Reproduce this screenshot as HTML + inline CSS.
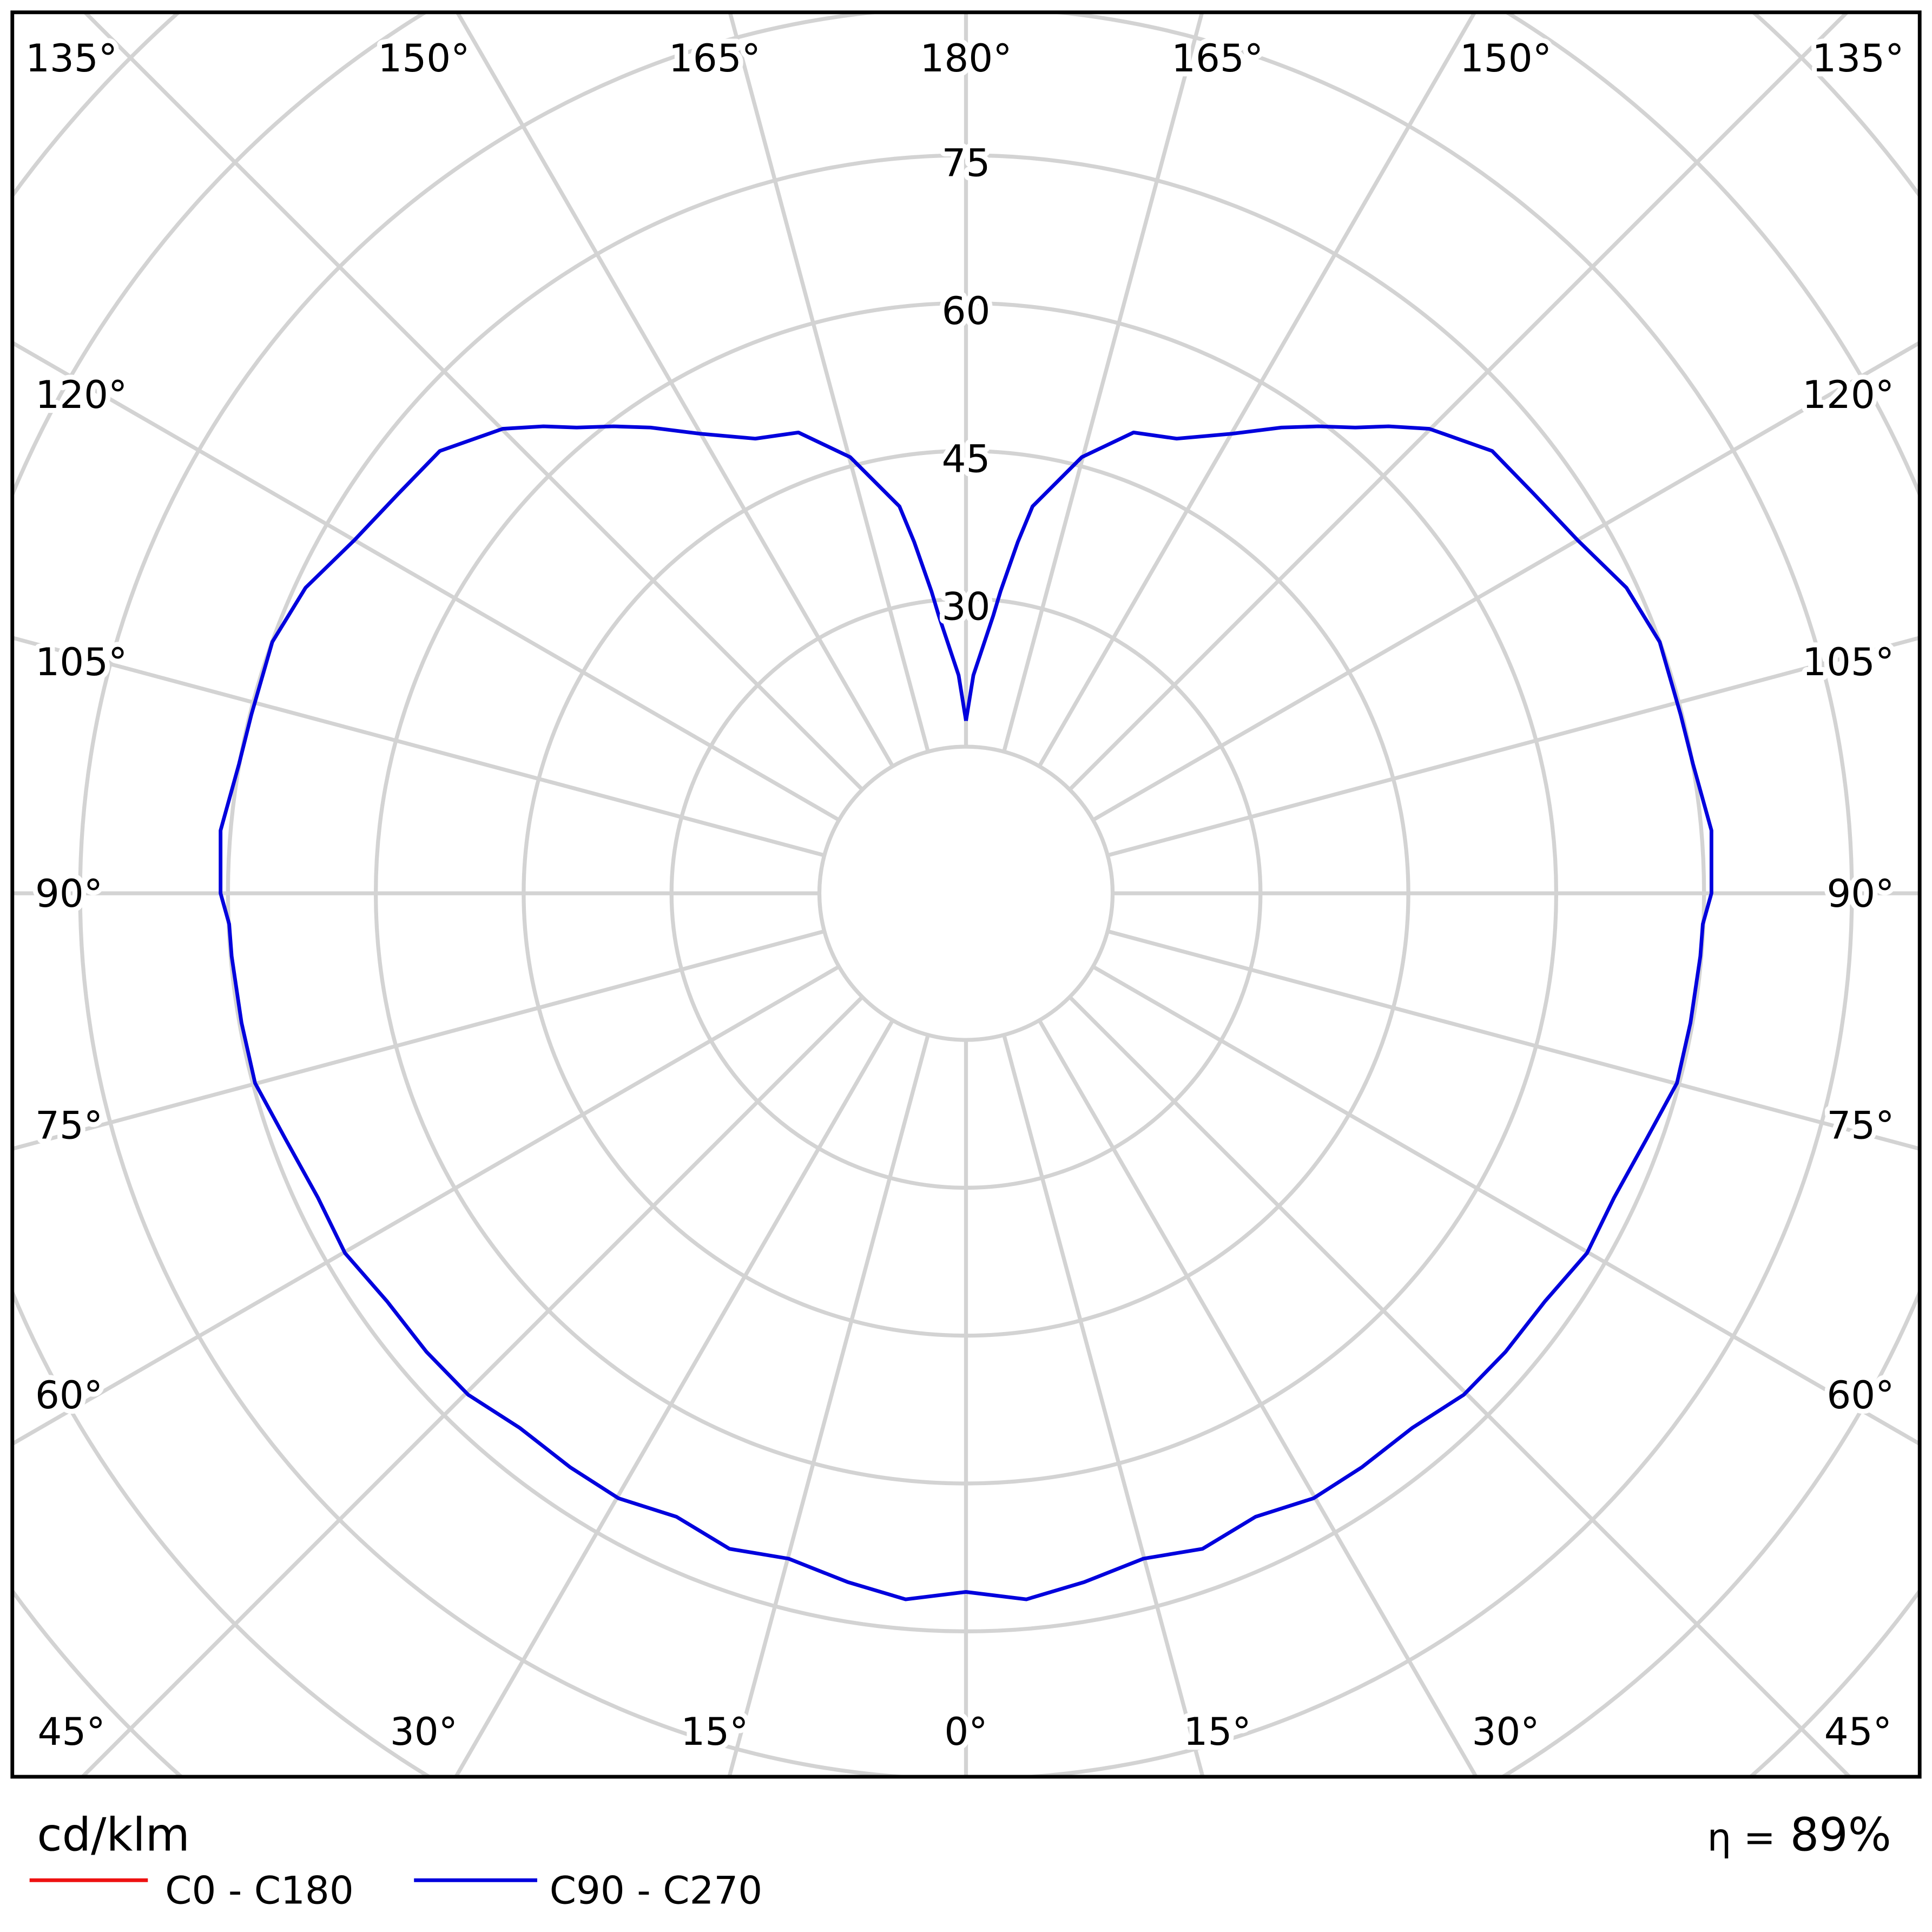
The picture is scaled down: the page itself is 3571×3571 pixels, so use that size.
<!DOCTYPE html>
<html><head><meta charset="utf-8"><style>html,body{margin:0;padding:0;background:#fff;overflow:hidden;width:3571px;height:3571px}svg{display:block}</style></head>
<body>
<svg width="3571" height="3571" viewBox="0 0 1568 1568" xmlns="http://www.w3.org/2000/svg" font-family="'DejaVu Sans','Liberation Sans',sans-serif">
<defs><clipPath id="c"><rect x="10" y="10" width="1548" height="1432"/></clipPath></defs>
<rect width="1568" height="1568" fill="#fff"/>
<g clip-path="url(#c)">
<g transform="translate(784,725)" stroke="#d3d3d3" stroke-width="3.2" fill="none">
<circle r="119"/><circle r="239"/><circle r="359"/><circle r="479"/><circle r="599"/><circle r="719"/><circle r="839"/><circle r="959"/><circle r="1079"/><circle r="1199"/>
<g id="sp">
<line x1="0" y1="120" x2="0" y2="1400"/>
<line x1="0" y1="120" x2="0" y2="1400" transform="rotate(15)"/>
<line x1="0" y1="120" x2="0" y2="1400" transform="rotate(30)"/>
<line x1="0" y1="120" x2="0" y2="1400" transform="rotate(45)"/>
<line x1="0" y1="120" x2="0" y2="1400" transform="rotate(60)"/>
<line x1="0" y1="120" x2="0" y2="1400" transform="rotate(75)"/>
</g>
<use href="#sp" transform="rotate(90)"/>
<use href="#sp" transform="rotate(180)"/>
<use href="#sp" transform="rotate(270)"/>
</g>
<polyline fill="none" stroke="#0000dd" stroke-width="3" stroke-linejoin="round" points="784,585 790,548 796,530 806,500 812,480 826,440 838,411 878,371 920,351 955,356 1000,352 1040,347 1070,346 1100,347 1127,346 1160,348 1211,366 1245,401 1280,438 1320,477 1347,521 1364,580 1374,620 1389,674 1389,725 1382,750 1380,776 1372,830 1361,879 1336,925 1310,972 1288,1017 1254,1056 1222,1097 1188,1132 1146,1159 1105,1191 1066,1216 1019,1231 976,1257 928,1265 880,1284 833,1298 784,1292 735,1298 688,1284 640,1265 592,1257 549,1231 502,1216 463,1191 422,1159 380,1132 346,1097 314,1056 280,1017 258,972 232,925 207,879 196,830 188,776 186,750 179,725 179,674 194,620 204,580 221,521 248,477 288,438 323,401 357,366 408,348 441,346 468,347 498,346 528,347 568,352 613,356 648,351 690,371 730,411 742,440 756,480 762,500 772,530 778,548 784,585"/>
</g>
<g font-size="31" fill="#000" text-anchor="middle" stroke="#fff" stroke-width="8" paint-order="stroke" stroke-linejoin="round">
<text x="58" y="58">135°</text><text x="344" y="58">150°</text><text x="580" y="58">165°</text><text x="784" y="58">180°</text><text x="988" y="58">165°</text><text x="1222" y="58">150°</text><text x="1508" y="58">135°</text>
<text x="66" y="331">120°</text><text x="1500" y="331">120°</text>
<text x="66" y="548">105°</text><text x="1500" y="548">105°</text>
<text x="56" y="736">90°</text><text x="1510" y="736">90°</text>
<text x="56" y="924">75°</text><text x="1510" y="924">75°</text>
<text x="56" y="1143">60°</text><text x="1510" y="1143">60°</text>
<text x="58" y="1416">45°</text><text x="344" y="1416">30°</text><text x="580" y="1416">15°</text><text x="784" y="1416">0°</text><text x="988" y="1416">15°</text><text x="1222" y="1416">30°</text><text x="1508" y="1416">45°</text>
<text x="784" y="143">75</text><text x="784" y="263">60</text><text x="784" y="383">45</text><text x="784" y="503">30</text>
</g>
<rect x="10" y="10" width="1548" height="1432" fill="none" stroke="#000" stroke-width="3"/>
<text x="30" y="1502" font-size="37">cd/klm</text>
<text x="1535" y="1502" font-size="37" text-anchor="end"><tspan font-size="31">η =</tspan> 89%</text>
<line x1="24" y1="1526" x2="120" y2="1526" stroke="#ee1111" stroke-width="3"/>
<text x="134" y="1545" font-size="31">C0 - C180</text>
<line x1="336" y1="1526" x2="436" y2="1526" stroke="#0000dd" stroke-width="3"/>
<text x="446" y="1545" font-size="31">C90 - C270</text>
</svg>
</body></html>
